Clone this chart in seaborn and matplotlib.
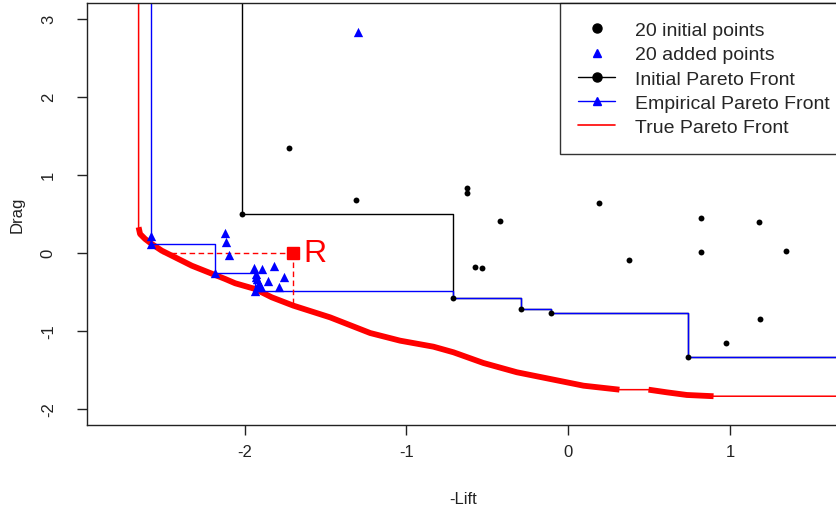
import numpy as np
import pandas as pd
import seaborn as sns
import matplotlib.pyplot as plt
from matplotlib.lines import Line2D

# 20 initial design points (-Lift, Drag)
init_x = [-1.725, -1.309, -0.627, -0.627, 0.190, -0.422, -2.014, 0.823, 1.181, 0.823,
          1.350, -0.573, -0.532, 0.379, -0.709, -0.293, -0.109, 1.187, 0.973, 0.744]
init_y = [1.338, 0.676, 0.830, 0.764, 0.637, 0.402, 0.496, 0.445, 0.390, 0.013,
          0.026, -0.179, -0.192, -0.094, -0.585, -0.718, -0.773, -0.854, -1.154, -1.341]

# 20 points added by the optimizer
added_x = [-1.299, -2.579, -2.579, -2.123, -2.117, -2.095, -2.181, -1.942, -1.894, -1.816,
           -1.932, -1.853, -1.756, -1.926, -1.787, -1.921, -1.899, -1.936, -1.910, -1.930]
added_y = [2.829, 0.215, 0.111, 0.249, 0.133, -0.034, -0.260, -0.200, -0.209, -0.170,
           -0.273, -0.359, -0.316, -0.337, -0.444, -0.444, -0.444, -0.487, -0.400, -0.310]

# Pareto fronts
init_pf_x = [-2.014, -0.709, -0.293, -0.109, 0.744]
init_pf_y = [0.496, -0.585, -0.718, -0.773, -1.341]
emp_pf_x = [-2.579, -2.181, -1.936, -0.709, -0.293, -0.109, 0.744]
emp_pf_y = [0.111, -0.260, -0.487, -0.585, -0.718, -0.773, -1.341]

# true Pareto front (two densely sampled pieces)
true_x1 = [-2.656, -2.647, -2.616, -2.575, -2.513, -2.430, -2.327, -2.224, -2.121, -2.059,
           -1.936, -1.833, -1.699, -1.472, -1.224, -1.039, -0.833, -0.709, -0.524, -0.317,
           -0.111, 0.095, 0.317]
true_y1 = [0.326, 0.240, 0.176, 0.112, 0.026, -0.060, -0.167, -0.252, -0.337, -0.392,
           -0.465, -0.572, -0.679, -0.829, -1.030, -1.128, -1.205, -1.277, -1.414, -1.533,
           -1.619, -1.705, -1.756]
true_x2 = [0.497, 0.610, 0.734, 0.899]
true_y2 = [-1.756, -1.790, -1.824, -1.840]

# reference point R and its dashed projections
ref_x, ref_y = -1.70, 0.0
ref_left_x = -2.51
ref_down_y = -0.68

TOP, RIGHT = 10, 10

sns.set_style("white")
plt.rcParams['font.family'] = ['Liberation Sans', 'DejaVu Sans']
plt.rcParams['axes.unicode_minus'] = False

fig = plt.figure(figsize=(8.36, 5.1), dpi=100)
ax = fig.add_axes([0.1037, 0.1653, 0.9013, 0.8268])

# true front: thin connecting line + thick sampled pieces
thin_x = [true_x1[0]] + true_x1 + true_x2 + [RIGHT]
thin_y = [TOP] + true_y1 + true_y2 + [true_y2[-1]]
sns.lineplot(x=thin_x, y=thin_y, sort=False, estimator=None, color='red', lw=1.1, ax=ax)
sns.lineplot(x=true_x1, y=true_y1, sort=False, estimator=None, color='red', lw=4.2,
             solid_capstyle='butt', ax=ax)
sns.lineplot(x=true_x2, y=true_y2, sort=False, estimator=None, color='red', lw=4.2,
             solid_capstyle='butt', ax=ax)

# initial Pareto front
sns.lineplot(x=[init_pf_x[0]] + init_pf_x + [RIGHT], y=[TOP] + init_pf_y + [init_pf_y[-1]],
             sort=False, estimator=None, drawstyle='steps-post', color='black', lw=1, ax=ax)
# empirical Pareto front
sns.lineplot(x=[emp_pf_x[0]] + emp_pf_x + [RIGHT], y=[TOP] + emp_pf_y + [emp_pf_y[-1]],
             sort=False, estimator=None, drawstyle='steps-post', color='blue', lw=1, ax=ax)

# dashed lines from R
ax.plot([ref_left_x, ref_x], [ref_y, ref_y], color='red', lw=1, ls=(0, (4, 2.5)))
ax.plot([ref_x, ref_x], [ref_y, ref_down_y], color='red', lw=1, ls=(0, (4, 2.5)))

sns.scatterplot(x=init_x, y=init_y, color='black', marker='o', s=18, linewidth=0, ax=ax, zorder=5)
sns.scatterplot(x=added_x, y=added_y, color='blue', marker='^', s=45, linewidth=0, ax=ax, zorder=5)
ax.plot([ref_x], [ref_y], marker='s', color='red', ms=8, ls='none', zorder=6)
ax.annotate('R', (ref_x, ref_y), xytext=(7, 0), textcoords='offset points',
            color='red', fontsize=23, ha='left', va='center')

ax.set_xlim(-2.977, 1.682)
ax.set_ylim(-2.205, 3.20)
ax.set_xticks([-2, -1, 0, 1])
ax.set_yticks([-2, -1, 0, 1, 2, 3])
ax.tick_params(axis='both', direction='out', length=7.2, width=1, colors='#222222',
               labelsize=12, left=True, bottom=True)
ax.tick_params(axis='x', pad=6.5)
ax.tick_params(axis='y', pad=15)
for lab in ax.get_yticklabels():
    lab.set_rotation(90)
    lab.set_va('center')

for side in ['left', 'bottom', 'top']:
    ax.spines[side].set_color('#222222')
    ax.spines[side].set_linewidth(1)
ax.spines['right'].set_visible(False)

ax.set_xlabel('-Lift', fontsize=12, color='#222222')
ax.set_ylabel('Drag', fontsize=12, color='#222222')
ax.xaxis.set_label_coords(0.5, -0.174)
ax.xaxis.label.set_va('center')
ax.yaxis.set_label_coords(-0.0925, 0.5)
ax.yaxis.label.set_va('center')

handles = [
    Line2D([], [], color='black', marker='o', ls='none', ms=6.5),
    Line2D([], [], color='blue', marker='^', ls='none', ms=5.5),
    Line2D([], [], color='black', marker='o', lw=1, ms=6.5),
    Line2D([], [], color='blue', marker='^', lw=1, ms=5.5),
    Line2D([], [], color='red', lw=1.2),
]
labels = ['20 initial points', '20 added points', 'Initial Pareto Front',
          'Empirical Pareto Front', 'True Pareto Front']
leg = ax.legend(handles, labels, loc='upper left', bbox_to_anchor=(0.628, 1.0),
                fontsize=14, frameon=True, fancybox=False, borderpad=0.95,
                labelspacing=0.34, handlelength=1.9, handletextpad=1.0,
                borderaxespad=0)
leg.get_frame().set_edgecolor('black')
leg.get_frame().set_linewidth(1)

fig.savefig('out.png', dpi=100)
